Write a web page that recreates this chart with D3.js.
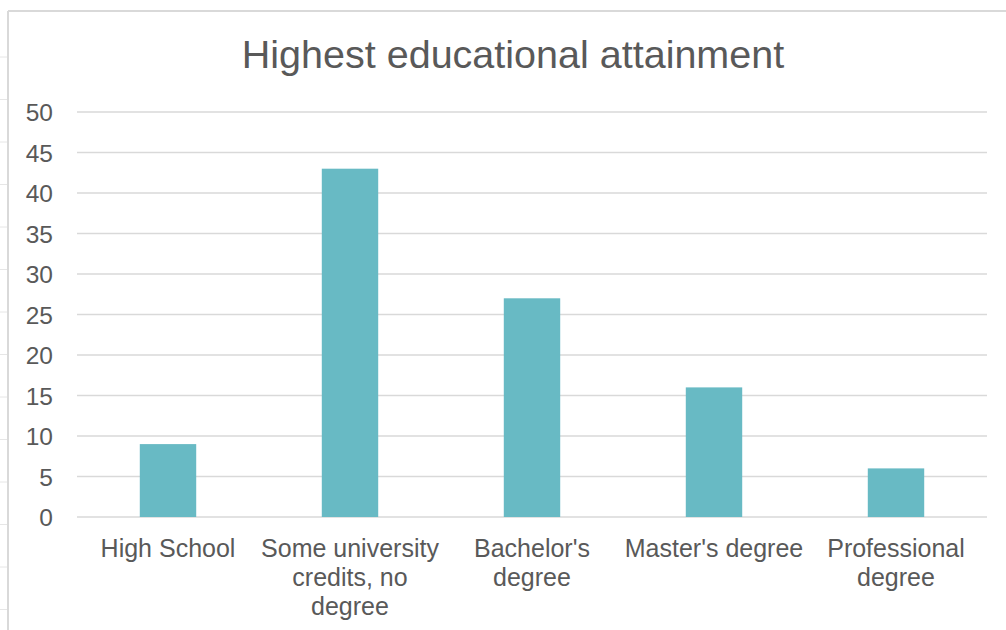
<!DOCTYPE html>
<html>
<head>
<meta charset="utf-8">
<script src="https://cdn.jsdelivr.net/npm/d3@7"></script>
<style>
  html, body { margin: 0; padding: 0; background: #fff; }
  svg { display: block; font-family: "Liberation Sans", Arial, Helvetica, sans-serif; }
</style>
</head>
<body>
<svg id="chart" width="1006" height="630"></svg>
<script>
// Data
const categories = ['High School', 'Some university credits, no degree', "Bachelor's degree", "Master's degree", 'Professional degree'];
const labelLines = [['High School'], ['Some university', 'credits, no', 'degree'], ["Bachelor's", 'degree'], ["Master's degree"], ['Professional', 'degree']];
const values = [9, 43, 27, 16, 6];
const yTicks = [0, 5, 10, 15, 20, 25, 30, 35, 40, 45, 50];

const svg = d3.select('#chart');
const margin = { top: 112, right: 19, bottom: 113, left: 77 };
const width = 1006, height = 630;

// spreadsheet frame behind the chart
svg.append('line')
  .attr('x1', 8).attr('x2', width).attr('y1', 11).attr('y2', 11)
  .attr('stroke', '#d9d9d9').attr('stroke-width', 2);
svg.append('line')
  .attr('x1', 8).attr('x2', 8).attr('y1', 11).attr('y2', height)
  .attr('stroke', '#d9d9d9').attr('stroke-width', 2);
svg.append('g').selectAll('line')
  .data(d3.range(57, height, 42.5))
  .enter().append('line')
  .attr('x1', 0).attr('x2', 7).attr('y1', d => d).attr('y2', d => d)
  .attr('stroke', '#e6e6e6').attr('stroke-width', 1);

// Scales
const x = d3.scaleBand()
  .domain(categories)
  .range([margin.left, width - margin.right])
  .paddingInner(0.69)
  .paddingOuter(0.345);

const y = d3.scaleLinear()
  .domain([0, 50])
  .range([height - margin.bottom, margin.top]);

// Gridlines
svg.append('g')
  .selectAll('line')
  .data(yTicks)
  .enter().append('line')
  .attr('x1', margin.left).attr('x2', width - margin.right)
  .attr('y1', d => y(d)).attr('y2', d => y(d))
  .attr('stroke', '#d9d9d9').attr('stroke-width', 1.6);

// Y axis labels
const yAxis = d3.axisLeft(y).tickValues(yTicks).tickSize(0).tickPadding(0);
const gy = svg.append('g')
  .attr('transform', `translate(${margin.left - 24},0)`)
  .call(yAxis);
gy.select('.domain').remove();
gy.selectAll('text')
  .attr('fill', '#595959')
  .style('font-size', '24.5px')
  .attr('dy', '0.35em');

// Bars
svg.append('g')
  .selectAll('rect')
  .data(values)
  .enter().append('rect')
  .attr('x', (d, i) => x(categories[i]))
  .attr('width', x.bandwidth())
  .attr('y', d => y(d))
  .attr('height', d => y(0) - y(d))
  .attr('fill', '#68bac4');

// X axis labels
const gx = svg.append('g');
categories.forEach((c, i) => {
  const t = gx.append('text')
    .attr('x', x(c) + x.bandwidth() / 2)
    .attr('y', 557)
    .attr('text-anchor', 'middle')
    .attr('fill', '#595959')
    .style('font-size', '25px');
  labelLines[i].forEach((line, j) => {
    t.append('tspan')
      .attr('x', x(c) + x.bandwidth() / 2)
      .attr('dy', j === 0 ? 0 : 29)
      .text(line);
  });
});

// Title
svg.append('text')
  .attr('x', 513)
  .attr('y', 68)
  .attr('text-anchor', 'middle')
  .attr('fill', '#595959')
  .style('font-size', '39.5px')
  .text('Highest educational attainment');
</script>
</body>
</html>
